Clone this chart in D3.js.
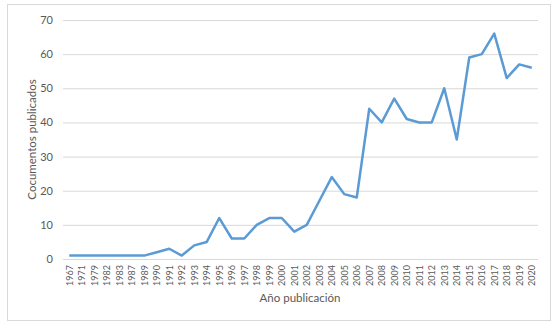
<!DOCTYPE html>
<html>
<head>
<meta charset="utf-8">
<script src="https://cdn.jsdelivr.net/npm/d3@7"></script>
<style>
  body { margin: 0; background: #fff; }
  text { font-family: Lato, "Open Sans", sans-serif; fill: #595959; }
</style>
</head>
<body>
<svg id="chart"></svg>
<script>
// Documents published per year
const years = ["1967", "1971", "1979", "1982", "1983", "1987", "1989",
  "1990", "1991", "1992", "1993", "1994", "1995", "1996", "1997", "1998", "1999",
  "2000", "2001", "2002", "2003", "2004", "2005", "2006", "2007", "2008", "2009",
  "2010", "2011", "2012", "2013", "2014", "2015", "2016", "2017", "2018", "2019", "2020"];
const docs = [1, 1, 1, 1, 1, 1, 1,
  2, 3, 1, 4, 5, 12, 6, 6, 10, 12,
  12, 8, 10, 17, 24, 19, 18, 44, 40, 47,
  41, 40, 40, 50, 35, 59, 60, 66, 53, 57, 56];
const yTicks = [0, 10, 20, 30, 40, 50, 60, 70];

const width = 555, height = 325;
const margin = { top: 20, right: 17, bottom: 66, left: 63 };

const svg = d3.select("#chart").attr("width", width).attr("height", height);

// outer frame
svg.append("rect")
  .attr("x", 7.5).attr("y", 4.5)
  .attr("width", 543).attr("height", 316)
  .attr("fill", "#fff").attr("stroke", "#d9d9d9");

const x = d3.scalePoint()
  .domain(years)
  .range([margin.left, width - margin.right])
  .padding(0.5);

const y = d3.scaleLinear()
  .domain([0, 70])
  .range([height - margin.bottom, margin.top]);

// gridlines + y labels
const yAxis = d3.axisLeft(y)
  .tickValues(yTicks)
  .tickSize(-(width - margin.left - margin.right))
  .tickPadding(10);

svg.append("g")
  .attr("transform", `translate(${margin.left},0)`)
  .call(yAxis)
  .call(g => g.select(".domain").remove())
  .call(g => g.selectAll("line").attr("stroke", "#d9d9d9"))
  .call(g => g.selectAll("text").style("font-size", "11px").attr("fill", "#595959"));

// x axis
const xAxis = d3.axisBottom(x).tickSize(0).tickPadding(0);
svg.append("g")
  .attr("transform", `translate(0,${height - margin.bottom})`)
  .call(xAxis)
  .call(g => g.select(".domain").remove())
  .call(g => g.selectAll("text")
    .attr("transform", "rotate(-90)")
    .attr("x", -6).attr("y", 0).attr("dy", "0.32em")
    .style("text-anchor", "end")
    .style("font-size", "9px")
    .attr("fill", "#595959"));

// line
const line = d3.line()
  .x((d, i) => x(years[i]))
  .y(d => y(d));

svg.append("path")
  .datum(docs)
  .attr("fill", "none")
  .attr("stroke", "#5b9bd5")
  .attr("stroke-width", 2.5)
  .attr("stroke-linejoin", "round")
  .attr("d", line);

// axis titles
svg.append("text")
  .attr("x", 300).attr("y", 302)
  .attr("text-anchor", "middle")
  .style("font-size", "11.5px")
  .text("Año publicación");

svg.append("text")
  .attr("transform", `translate(36,${(margin.top + height - margin.bottom) / 2}) rotate(-90)`)
  .attr("text-anchor", "middle")
  .style("font-size", "11.5px")
  .text("Cocumentos publicados");
</script>
</body>
</html>
